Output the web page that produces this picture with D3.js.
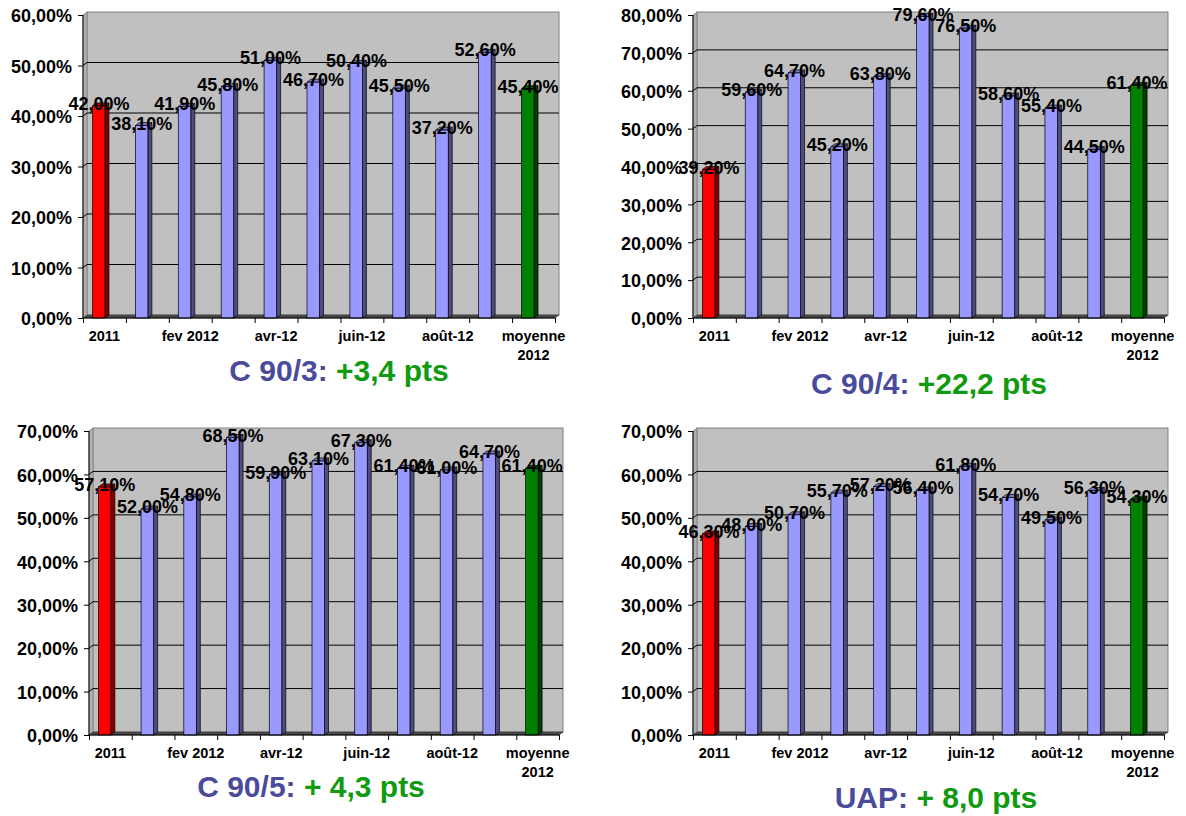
<!DOCTYPE html>
<html>
<head>
<meta charset="utf-8">
<script src="https://cdnjs.cloudflare.com/ajax/libs/d3/7.8.5/d3.min.js"></script>
<style>
    body { margin: 0; background: #fff; }
    svg { display: block; font-family: "Liberation Sans", Arial, sans-serif; font-weight: bold; }
</style>
</head>
<body>
<svg id="chart" width="1186" height="816"></svg>
<script>
// categories (only every other one gets a visible label)
var categories = ["2011", "janv-12", "fev 2012", "mars-12", "avr-12", "mai-12", "juin-12", "juil-12", "août-12", "sept-12", "moyenne 2012"];
var tickLabels = [["2011"], [], ["fev 2012"], [], ["avr-12"], [], ["juin-12"], [], ["août-12"], [], ["moyenne", "2012"]];

// values in %
var valuesC903 = [42.0, 38.1, 41.9, 45.8, 51.0, 46.7, 50.4, 45.5, 37.2, 52.6, 45.4];
var valuesC904 = [39.2, 59.6, 64.7, 45.2, 63.8, 79.6, 76.5, 58.6, 55.4, 44.5, 61.4];
var valuesC905 = [57.1, 52.0, 54.8, 68.5, 59.9, 63.1, 67.3, 61.4, 61.0, 64.7, 61.4];
var valuesUAP = [46.3, 48.0, 50.7, 55.7, 57.2, 56.4, 61.8, 54.7, 49.5, 56.3, 54.3];

var titleNames = ["C 90/3:", "C 90/4:", "C 90/5:", "UAP:"];
var titleGains = [" +3,4 pts", " +22,2 pts", " + 4,3 pts", " + 8,0 pts"];
var axisMax = [60, 80, 70, 70];

// panel geometry (front axis corner, top, right edge of back wall, title centre)
var layout = [
    {axisX: 83, y0: 318, yTop: 15, right: 559, titleX: 339, titleY: 370},
    {axisX: 693, y0: 318, yTop: 15, right: 1168, titleX: 929, titleY: 383},
    {axisX: 89, y0: 735, yTop: 431, right: 563, titleX: 311, titleY: 786},
    {axisX: 693, y0: 735, yTop: 431, right: 1168, titleX: 936, titleY: 797}
];

var depthX = 4, depthY = 3;
var frOpts = d3.formatLocale({decimal: ",", thousands: " ", grouping: [3], currency: ["", "€"]});
var fmt = frOpts.format(".2f");

var colors = {
    red: {front: "#ff0000", side: "#800000", top: "#c00000"},
    blue: {front: "#9999ff", side: "#4d4d80", top: "#7a7acc"},
    green: {front: "#008000", side: "#004000", top: "#006000"}
};

function barColor(i, n) {
    if (i === 0) return colors.red;
    if (i === n - 1) return colors.green;
    return colors.blue;
}

function drawPanel(svg, values, p, max, name, gain) {
    var g = svg.append("g");
    var floorRight = p.right - depthX;

    var y = d3.scaleLinear().domain([0, max]).range([p.y0, p.yTop]);
    var xl = d3.scaleLinear().domain([0, categories.length]).range([p.axisX, floorRight]);
    var x = d3.scaleBand().domain(categories).range([p.axisX, floorRight]).padding(0);

    // back wall
    g.append("rect")
        .attr("x", p.axisX + depthX)
        .attr("y", p.yTop - depthY)
        .attr("width", p.right - p.axisX - depthX)
        .attr("height", p.y0 - p.yTop)
        .attr("fill", "#c0c0c0")
        .attr("stroke", "#808080")
        .attr("stroke-width", 1);

    // side wall
    g.append("polygon")
        .attr("points", [
            [p.axisX, p.yTop], [p.axisX + depthX, p.yTop - depthY],
            [p.axisX + depthX, p.y0 - depthY], [p.axisX, p.y0]
        ].join(" "))
        .attr("fill", "#b0b0b0")
        .attr("stroke", "#808080")
        .attr("stroke-width", 0.8);

    // gridlines
    var ticks = d3.range(0, max + 1, 10);
    g.selectAll(".grid")
        .data(ticks.slice(1, -1))
        .join("polyline")
        .attr("fill", "none")
        .attr("stroke", "#000")
        .attr("stroke-width", 1)
        .attr("points", function (t) {
            return [[p.axisX, y(t)], [p.axisX + depthX, y(t) - depthY], [p.right, y(t) - depthY]].join(" ");
        });

    // floor
    g.append("polygon")
        .attr("points", [
            [p.axisX, p.y0], [p.axisX + depthX, p.y0 - depthY],
            [p.right, p.y0 - depthY], [floorRight, p.y0]
        ].join(" "))
        .attr("fill", "#4a4a4a")
        .attr("stroke", "#333")
        .attr("stroke-width", 0.6);

    // bars
    var bw = 12.5;
    var bars = g.selectAll(".bar")
        .data(values)
        .join("g")
        .attr("class", "bar");

    bars.each(function (v, i) {
        var c = x(categories[i]) + x.bandwidth() / 2;
        var bx = c - 12;
        var top = y(v);
        var col = barColor(i, values.length);
        var b = d3.select(this);
        b.append("polygon")
            .attr("points", [[bx + bw, top], [bx + bw + depthX, top - depthY], [bx + bw + depthX, p.y0 - depthY], [bx + bw, p.y0]].join(" "))
            .attr("fill", col.side).attr("stroke", "#000").attr("stroke-width", 0.7);
        b.append("polygon")
            .attr("points", [[bx, top], [bx + depthX, top - depthY], [bx + bw + depthX, top - depthY], [bx + bw, top]].join(" "))
            .attr("fill", col.top).attr("stroke", "#000").attr("stroke-width", 0.7);
        b.append("rect")
            .attr("x", bx).attr("y", top)
            .attr("width", bw).attr("height", p.y0 - top)
            .attr("fill", col.front).attr("stroke", "#000").attr("stroke-width", 0.7);
    });

    // data labels
    g.selectAll(".dlabel")
        .data(values)
        .join("text")
        .attr("x", function (v, i) { return x(categories[i]) + x.bandwidth() / 2 - 5.5; })
        .attr("y", function (v) { return y(v) - 2; })
        .attr("text-anchor", "middle")
        .attr("dominant-baseline", "central")
        .attr("font-size", 18)
        .attr("fill", "#000")
        .text(function (v) { return fmt(v) + "%"; });

    // y axis
    var yAxis = g.append("g")
        .attr("transform", "translate(" + p.axisX + ",0)")
        .call(d3.axisLeft(y).tickValues(ticks).tickSize(5).tickPadding(6)
            .tickFormat(function (t) { return fmt(t) + "%"; }));
    yAxis.select(".domain").attr("stroke", "#000").attr("d", "M0," + p.y0 + "V" + p.yTop);
    yAxis.selectAll("text")
        .attr("font-size", 18)
        .attr("font-family", "'Liberation Sans', Arial, sans-serif")
        .attr("font-weight", "bold")
        .attr("fill", "#000")
        .attr("dy", "0.38em");

    // x axis
    var xAxis = g.append("g")
        .attr("transform", "translate(0," + p.y0 + ")")
        .call(d3.axisBottom(xl).tickValues(d3.range(0, categories.length + 1)).tickSize(5).tickFormat(""));
    xAxis.select(".domain").attr("stroke", "#000").attr("d", "M" + p.axisX + ",0H" + floorRight);

    var lbl = g.selectAll(".xlabel")
        .data(tickLabels)
        .join("text")
        .attr("text-anchor", "middle")
        .attr("font-size", 14.5)
        .attr("fill", "#000");
    lbl.each(function (lines, i) {
        var c = x(categories[i]) + x.bandwidth() / 2;
        var t = d3.select(this);
        lines.forEach(function (line, k) {
            t.append("tspan")
                .attr("x", c)
                .attr("y", p.y0 + 18 + k * 19)
                .attr("dominant-baseline", "central")
                .text(line);
        });
    });

    // title
    var title = g.append("text")
        .attr("x", p.titleX)
        .attr("y", p.titleY)
        .attr("text-anchor", "middle")
        .attr("dominant-baseline", "central")
        .attr("font-size", 30);
    title.append("tspan").attr("fill", "#4b4b9b").text(name);
    title.append("tspan").attr("fill", "#0f9a0f").text(gain);
}

var svg = d3.select("#chart");
var allValues = [valuesC903, valuesC904, valuesC905, valuesUAP];
for (var i = 0; i < allValues.length; i++) {
    drawPanel(svg, allValues[i], layout[i], axisMax[i], titleNames[i], titleGains[i]);
}
</script>
</body>
</html>
